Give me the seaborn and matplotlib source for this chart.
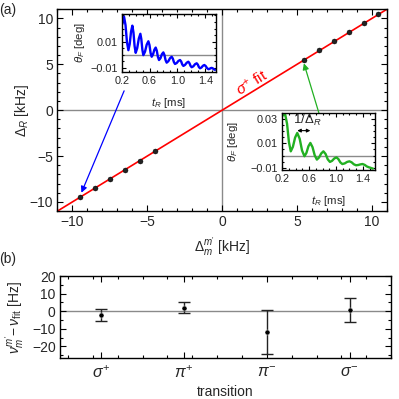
import numpy as np
import pandas as pd
import matplotlib
matplotlib.use("Agg")
import matplotlib.pyplot as plt
from matplotlib.ticker import MultipleLocator, FixedLocator
import seaborn as sns

# ---------------- data ----------------
# main panel: measured detunings (kHz)
delta_m = [-9.5, -8.5, -7.5, -6.5, -5.5, -4.5, 5.45, 6.45, 7.45, 8.45, 9.45, 10.4]
delta_R = [-9.5, -8.5, -7.5, -6.5, -5.5, -4.5, 5.5, 6.5, 7.5, 8.5, 9.5, 10.45]
fit_x = [-11, 11]
fit_y = [-11, 11]

# inset 1 (blue): Faraday rotation signal
blue_t = [0.21, 0.234, 0.255, 0.275, 0.296, 0.315, 0.334, 0.353, 0.369, 0.385,
          0.401, 0.423, 0.446, 0.468, 0.482, 0.497, 0.511, 0.535, 0.559, 0.583,
          0.599, 0.615, 0.631, 0.65, 0.669, 0.688, 0.704, 0.72, 0.736, 0.757,
          0.777, 0.798, 0.814, 0.83, 0.846, 0.87, 0.894, 0.918, 0.934, 0.95,
          0.966, 0.99, 1.014, 1.038, 1.054, 1.07, 1.086, 1.11, 1.133, 1.157,
          1.173, 1.189, 1.205, 1.229, 1.253, 1.277, 1.293, 1.309, 1.325, 1.346,
          1.366, 1.387, 1.406, 1.426, 1.445, 1.461, 1.477, 1.493, 1.509, 1.524,
          1.54]
blue_th = [0.0235, 0.029, 0.0226, 0.0099, 0.0035, 0.0082, 0.0175, 0.0222, 0.0170, 0.0067,
           0.0015, 0.0051, 0.0124, 0.016, 0.0119, 0.0038, -0.0003, 0.0024, 0.0077, 0.0103,
           0.0074, 0.0014, -0.0015, 0.0003, 0.0038, 0.0055, 0.0031, -0.0016, -0.004, -0.0026,
           0.0004, 0.0018, -0.0002, -0.0041, -0.006, -0.0049, -0.0026, -0.0015, -0.0029, -0.0056,
           -0.007, -0.0063, -0.0047, -0.004, -0.0051, -0.0074, -0.0085, -0.0077, -0.0061, -0.0053,
           -0.0064, -0.0085, -0.0095, -0.0088, -0.0072, -0.0065, -0.0075, -0.0094, -0.0103, -0.0097,
           -0.0084, -0.0078, -0.0086, -0.0102, -0.011, -0.0108, -0.0102, -0.010, -0.0104, -0.0111,
           -0.0115]

# inset 2 (green)
green_t = [0.215, 0.244, 0.271, 0.299, 0.326, 0.358, 0.391, 0.423, 0.459, 0.494,
           0.53, 0.559, 0.589, 0.618, 0.65, 0.683, 0.715, 0.747, 0.78, 0.812,
           0.844, 0.877, 0.909, 0.941, 0.974, 1.006, 1.035, 1.065, 1.094, 1.129,
           1.165, 1.20, 1.232, 1.265, 1.297, 1.33, 1.362, 1.395, 1.427, 1.46,
           1.492, 1.511, 1.53, 1.55]
green_th = [0.0327, 0.0332, 0.0258, 0.0109, 0.0035, 0.0072, 0.0147, 0.0184, 0.0137, 0.0042,
            -0.0005, 0.0022, 0.0076, 0.0103, 0.0069, 0.0002, -0.0032, -0.0015, 0.0018, 0.0035,
            0.0014, -0.003, -0.0051, -0.0042, -0.0023, -0.0014, -0.0028, -0.0055, -0.0068, -0.0063,
            -0.0051, -0.0046, -0.0054, -0.007, -0.0078, -0.0076, -0.0071, -0.0068, -0.0075, -0.0088,
            -0.0095, -0.0098, -0.0102, -0.0105]

# panel b: residuals
transitions = [r"$\sigma^{+}$", r"$\pi^{+}$", r"$\pi^{-}$", r"$\sigma^{-}$"]
resid = [-2.2, 2.1, -11.9, 0.7]
resid_err = [3.3, 2.9, 12.5, 7.0]

# ---------------- style ----------------
sns.set_style("ticks")
plt.rcParams["font.family"] = ["Liberation Sans", "DejaVu Sans"]
plt.rcParams["mathtext.fontset"] = "custom"
plt.rcParams["mathtext.rm"] = "Liberation Sans"
plt.rcParams["mathtext.it"] = "Liberation Sans:italic"
plt.rcParams["mathtext.bf"] = "Liberation Sans:bold"
plt.rcParams["axes.linewidth"] = 1.0
plt.rcParams["axes.edgecolor"] = "black"

fig = plt.figure(figsize=(3.99, 3.99), dpi=100)


def style_ticks(ax, size, major=4, minor=2.2):
    ax.tick_params(which="both", direction="in", top=True, right=True,
                   labelsize=size, width=0.8, color="black")
    ax.tick_params(which="major", length=major, pad=3)
    ax.tick_params(which="minor", length=minor)


def num(v):
    return f"{v:g}".replace("-", "\u2212")


# ---------------- main panel ----------------
ax = fig.add_axes([0.144, 0.471, 0.826, 0.506])
ax.axhline(0, color="#8a8a8a", lw=1, zorder=0)
ax.axvline(0, color="#8a8a8a", lw=1, zorder=0)
sns.lineplot(x=fit_x, y=fit_y, ax=ax, color="red", lw=1.2, zorder=2)
sns.scatterplot(x=delta_m, y=delta_R, ax=ax, color="#222222", s=13,
                edgecolor="black", linewidth=0.3, zorder=3)
ax.set_xlim(-11, 11)
ax.set_ylim(-11, 11)
ax.xaxis.set_major_locator(MultipleLocator(5))
ax.xaxis.set_minor_locator(MultipleLocator(1))
ax.yaxis.set_major_locator(MultipleLocator(5))
ax.yaxis.set_minor_locator(MultipleLocator(1))
style_ticks(ax, 10)
ax.set_xticklabels([num(v) for v in ax.get_xticks()])
ax.set_yticklabels([num(v) for v in ax.get_yticks()])
ax.set_xlabel(r"$\Delta_m^{m'}$ [kHz]", fontsize=10)
ax.set_ylabel(r"$\Delta_R$ [kHz]", fontsize=10)
ax.xaxis.label.set_va("center")
ax.yaxis.label.set_va("center")
ax.xaxis.set_label_coords(0.5, -0.178)
ax.yaxis.set_label_coords(-0.108, 0.5)

ax.text(1.95, 2.95, r"$\sigma^{+}$ fit", color="red", fontsize=11,
        rotation=31.5, ha="center", va="center", rotation_mode="anchor")

ax.annotate("", xy=(-9.4, -9.0), xytext=(-6.55, 2.1),
            arrowprops=dict(arrowstyle="-|>", color="blue", lw=0.9,
                            mutation_scale=9, shrinkA=0, shrinkB=0))
ax.annotate("", xy=(5.45, 5.1), xytext=(6.45, -0.3),
            arrowprops=dict(arrowstyle="-|>", color="#22b022", lw=0.9,
                            mutation_scale=9, shrinkA=0, shrinkB=0))


def fmt(v):
    return f"{v:.2f}".replace("-", "\u2212")


# ---------------- inset 1 (blue) ----------------
a1 = fig.add_axes([0.305, 0.820, 0.2356, 0.1446])
a1.set_facecolor("white")
a1.axhline(0, color="#8a8a8a", lw=1, zorder=0)
sns.lineplot(x=blue_t, y=blue_th, ax=a1, color="blue", lw=1.7,
             sort=False, estimator=None)
a1.lines[-1].set_solid_joinstyle("round")
a1.set_xlim(0.2, 1.55)
a1.set_ylim(-0.013, 0.031)
a1.xaxis.set_major_locator(FixedLocator([0.2, 0.6, 1.0, 1.4]))
a1.xaxis.set_minor_locator(MultipleLocator(0.1))
a1.yaxis.set_major_locator(FixedLocator([-0.01, 0.01]))
a1.yaxis.set_minor_locator(MultipleLocator(0.005))
style_ticks(a1, 7.8, major=3, minor=1.6)
a1.set_xticklabels(["0.2", "0.6", "1.0", "1.4"])
a1.set_yticklabels([fmt(-0.01), fmt(0.01)])
a1.set_xlabel(r"$t_R$ [ms]", fontsize=8.2)
a1.set_ylabel(r"$\theta_F$ [deg]", fontsize=8.2)
a1.xaxis.label.set_va("center")
a1.yaxis.label.set_va("center")
a1.xaxis.set_label_coords(0.5, -0.54)
a1.yaxis.set_label_coords(-0.44, 0.5)

# ---------------- inset 2 (green) ----------------
a2 = fig.add_axes([0.7075, 0.5747, 0.2323, 0.1421])
a2.set_facecolor("white")
a2.axhline(0, color="#8a8a8a", lw=1, zorder=0)
sns.lineplot(x=green_t, y=green_th, ax=a2, color="#22b022", lw=1.7,
             sort=False, estimator=None)
a2.lines[-1].set_solid_joinstyle("round")
a2.set_xlim(0.2, 1.58)
a2.set_ylim(-0.0114, 0.0346)
a2.xaxis.set_major_locator(FixedLocator([0.2, 0.6, 1.0, 1.4]))
a2.xaxis.set_minor_locator(MultipleLocator(0.1))
a2.yaxis.set_major_locator(FixedLocator([-0.01, 0.01, 0.03]))
a2.yaxis.set_minor_locator(MultipleLocator(0.005))
style_ticks(a2, 7.8, major=3, minor=1.6)
a2.set_xticklabels(["0.2", "0.6", "1.0", "1.4"])
a2.set_yticklabels([fmt(-0.01), fmt(0.01), fmt(0.03)])
a2.set_xlabel(r"$t_R$ [ms]", fontsize=8.2)
a2.set_ylabel(r"$\theta_F$ [deg]", fontsize=8.2)
a2.xaxis.label.set_va("center")
a2.yaxis.label.set_va("center")
a2.xaxis.set_label_coords(0.5, -0.55)
a2.yaxis.set_label_coords(-0.53, 0.5)
a2.annotate("", xy=(0.423, 0.0203), xytext=(0.618, 0.0203),
            arrowprops=dict(arrowstyle="<|-|>", color="black", lw=0.8,
                            mutation_scale=5, shrinkA=0, shrinkB=0))
a2.text(0.57, 0.0285, r"$1/\Delta_R$", fontsize=9.5, ha="center", va="center")

# ---------------- panel b ----------------
bx = fig.add_axes([0.150, 0.103, 0.830, 0.205])
bx.axhline(0, color="#8a8a8a", lw=1, zorder=0)
pos = np.arange(1, len(transitions) + 1)
bx.errorbar(pos, resid, yerr=resid_err, fmt="none", ecolor="#222222",
            elinewidth=1.0, capsize=4, capthick=1.0, zorder=3)
sns.scatterplot(x=pos, y=resid, ax=bx, color="black", s=13, zorder=4)
bx.set_xlim(0.5, 4.5)
bx.set_ylim(-26.5, 20)
bx.xaxis.set_major_locator(FixedLocator(pos))
bx.xaxis.set_minor_locator(MultipleLocator(0.3))
bx.yaxis.set_major_locator(MultipleLocator(10))
bx.yaxis.set_minor_locator(MultipleLocator(5))
style_ticks(bx, 10)
bx.set_xticklabels(transitions, fontsize=11.5)
bx.set_yticklabels([num(v) for v in bx.get_yticks()])
bx.tick_params(axis="x", pad=5)
bx.set_xlabel("transition", fontsize=10)
bx.set_ylabel(r"$\nu_m^{m'}\!-\nu_{\rm fit}$ [Hz]", fontsize=10)
bx.xaxis.label.set_va("center")
bx.yaxis.label.set_va("center")
bx.xaxis.set_label_coords(0.5, -0.415)
bx.yaxis.set_label_coords(-0.136, 0.5)

fig.text(8 / 399, 1 - 10 / 399, "(a)", fontsize=10, ha="center", va="center")
fig.text(8 / 399, 1 - 259 / 399, "(b)", fontsize=10, ha="center", va="center")

fig.savefig("out.png", dpi=100)
